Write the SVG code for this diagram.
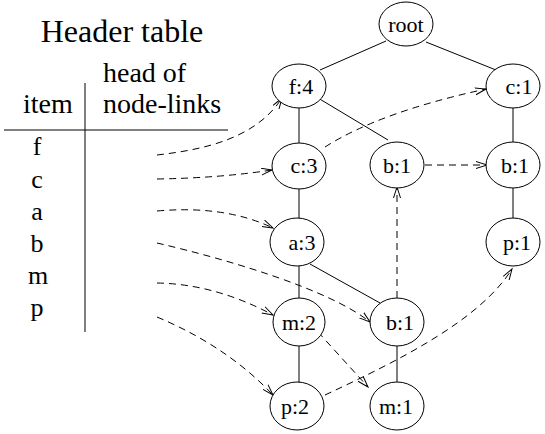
<svg xmlns="http://www.w3.org/2000/svg" width="545" height="434" viewBox="0 0 545 434">
<style>
text{font-family:"Liberation Serif","Times New Roman",serif;fill:#000}
.hd{font-size:32px}
.tb{font-size:28px}
.it{font-size:26px;text-anchor:middle}
.lb{font-size:22px;text-anchor:middle}
.nd{fill:#fff;stroke:#000;stroke-width:1}
.e{stroke:#000;stroke-width:1;fill:none}
.d{stroke:#000;stroke-width:1;fill:none;stroke-dasharray:7 5;marker-end:url(#ah)}
</style>
<defs>
<marker id="ah" markerUnits="userSpaceOnUse" markerWidth="14" markerHeight="10" refX="11" refY="4" orient="auto">
<path d="M0,0.5 L11,4 L0,7.5" fill="none" stroke="#000" stroke-width="1"/>
</marker>
</defs>
<g id="header">
<text class="hd" x="122" y="42" text-anchor="middle">Header table</text>
<text class="tb" x="103" y="82">head of</text>
<text class="tb" x="103" y="113">node-links</text>
<text class="tb" x="23" y="113">item</text>
<line class="e" x1="4" y1="130" x2="228" y2="130"/>
<line class="e" x1="85" y1="83" x2="85" y2="332"/>
<text class="it" x="37" y="155">f</text>
<text class="it" x="37" y="188">c</text>
<text class="it" x="37" y="220">a</text>
<text class="it" x="37" y="252">b</text>
<text class="it" x="38" y="284">m</text>
<text class="it" x="37" y="316">p</text>
</g>
<g id="edges">
<line class="e" x1="386" y1="41" x2="320" y2="70"/>
<line class="e" x1="426" y1="42" x2="496" y2="70"/>
<line class="e" x1="299" y1="107" x2="299" y2="143"/>
<line class="e" x1="318" y1="98" x2="388" y2="140"/>
<line class="e" x1="513" y1="107" x2="513" y2="142"/>
<line class="e" x1="299" y1="188" x2="299" y2="219"/>
<line class="e" x1="513" y1="188" x2="513" y2="219"/>
<line class="e" x1="299" y1="266" x2="299" y2="299"/>
<line class="e" x1="310" y1="264" x2="380" y2="303"/>
<line class="e" x1="299" y1="345" x2="299" y2="383"/>
<line class="e" x1="397" y1="346" x2="397" y2="383"/>
</g>
<g id="links">
<path class="d" d="M157,155 C200,150 255,140 282,98"/>
<path class="d" d="M157,179 Q220,178 272,170"/>
<path class="d" d="M157,211 Q225,205 273,228"/>
<path class="d" d="M157,243 C230,260 330,290 370,322"/>
<path class="d" d="M157,283 Q215,284 273,315"/>
<path class="d" d="M157,317 C200,335 240,360 273,395"/>
<path class="d" d="M325,147 Q380,112 486,89"/>
<path class="d" d="M425,165 L487,165"/>
<path class="d" d="M397,298 L397,187"/>
<path class="d" d="M318,332 L368,387"/>
<path class="d" d="M325,395 C400,360 480,320 512,269"/>
</g>
<g id="n-root"><ellipse class="nd" cx="406" cy="24" rx="27" ry="22"/><text class="lb" x="406" y="32">root</text></g>
<g id="n-f4"><ellipse class="nd" cx="299" cy="86" rx="27" ry="22"/><text class="lb" x="301" y="94">f:4</text></g>
<g id="n-c1"><ellipse class="nd" cx="513" cy="86" rx="27" ry="22"/><text class="lb" x="519" y="94">c:1</text></g>
<g id="n-c3"><ellipse class="nd" cx="299" cy="166" rx="27" ry="23"/><text class="lb" x="304" y="173">c:3</text></g>
<g id="n-b1a"><ellipse class="nd" cx="397" cy="165" rx="27" ry="23"/><text class="lb" x="397" y="173">b:1</text></g>
<g id="n-b1b"><ellipse class="nd" cx="513" cy="165" rx="27" ry="23"/><text class="lb" x="515" y="173">b:1</text></g>
<g id="n-a3"><ellipse class="nd" cx="297" cy="242" rx="27" ry="24"/><text class="lb" x="302" y="250">a:3</text></g>
<g id="n-p1"><ellipse class="nd" cx="513" cy="242" rx="27" ry="24"/><text class="lb" x="517" y="250">p:1</text></g>
<g id="n-m2"><ellipse class="nd" cx="299" cy="322" rx="26" ry="24"/><text class="lb" x="299" y="330">m:2</text></g>
<g id="n-b1c"><ellipse class="nd" cx="397" cy="322" rx="27" ry="24"/><text class="lb" x="400" y="330">b:1</text></g>
<g id="n-p2"><ellipse class="nd" cx="297" cy="406" rx="27" ry="24"/><text class="lb" x="295" y="414">p:2</text></g>
<g id="n-m1"><ellipse class="nd" cx="397" cy="406" rx="27" ry="24"/><text class="lb" x="396" y="414">m:1</text></g>
</svg>
